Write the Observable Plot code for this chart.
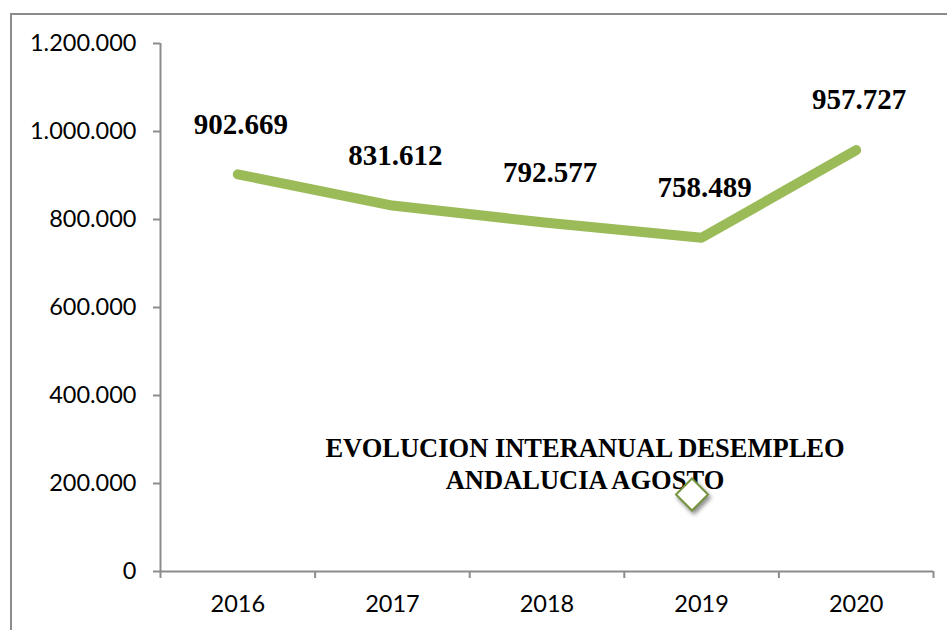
<!DOCTYPE html>
<html>
<head>
<meta charset="utf-8">
<script src="https://cdn.jsdelivr.net/npm/d3@7"></script>
<script src="https://cdn.jsdelivr.net/npm/@observablehq/plot@0.6"></script>
<style>
  html, body { margin: 0; padding: 0; background: #fff; }
  #wrap { position: relative; width: 947px; height: 630px; overflow: hidden; }
  #border { position: absolute; left: 10px; top: 13px; width: 1200px; height: 900px; border-left: 2px solid #8c8c8c; border-top: 2px solid #8c8c8c; }
  #chart { position: absolute; left: 0; top: 0; }
</style>
</head>
<body>
<div id="wrap"><div id="border"></div><div id="chart"></div></div>
<script>
const years = [2016, 2017, 2018, 2019, 2020];
const parados = [902669, 831612, 792577, 758489, 957727];
const yTicks = [0, 200000, 400000, 600000, 800000, 1000000, 1200000];
const titleText = "EVOLUCION INTERANUAL DESEMPLEO\nANDALUCIA AGOSTO";

const data = years.map((y, i) => ({year: y, value: parados[i]}));
const es = d3.formatLocale({decimal: ",", thousands: ".", grouping: [3], currency: ["", "€"]});
const fmt = es.format(",d");
const bounds = [years[0] - 0.5, ...years.map(y => y + 0.5)];

const grey = "#8c8c8c";
const plot = Plot.plot({
  width: 947,
  height: 630,
  marginLeft: 160,
  marginRight: 14,
  marginTop: 43,
  marginBottom: 59,
  style: {background: "transparent", overflow: "visible"},
  x: {domain: [bounds[0], bounds[bounds.length - 1]]},
  y: {domain: [0, 1200000]},
  marks: [
    Plot.ruleY([0], {stroke: grey, strokeWidth: 2}),
    Plot.ruleX([bounds[0]], {y1: 0, y2: 1200000, stroke: grey, strokeWidth: 2}),
    Plot.axisY({ticks: yTicks, tickFormat: d => d === 0 ? "0" : fmt(d), tickSize: 7, tickPadding: 17,
      stroke: grey, strokeWidth: 2, fontSize: 23.5, fontFamily: "Lato", fill: "#000", label: null}),
    Plot.axisX({ticks: bounds, tickFormat: () => "", tickSize: 7, stroke: grey, strokeWidth: 2, label: null}),
    Plot.axisX({ticks: years, tickFormat: d => String(d), tickSize: 0, tickPadding: 24,
      fontSize: 23.5, fontFamily: "Lato", fill: "#000", label: null}),
    Plot.line(data, {x: "year", y: "value", stroke: "#9BBB59", strokeWidth: 10, strokeLinecap: "round", strokeLinejoin: "round"}),
    Plot.text(data, {x: "year", y: "value", text: d => fmt(d.value), dx: 3, dy: -50,
      fontFamily: "Liberation Serif", fontWeight: "bold", fontSize: 29, fill: "#000", letterSpacing: "0.6px"}),
    Plot.text([titleText], {frameAnchor: "middle", dx: 38, dy: 155, text: d => d, lineHeight: 1.2,
      fontFamily: "Liberation Serif", fontWeight: "bold", fontSize: 26.5, fill: "#000"}),
    Plot.dot([titleText], {frameAnchor: "middle", dx: 145, dy: 187, symbol: "diamond2", r: 14.4,
      stroke: "#77933C", strokeWidth: 2, fill: "#fff"})
  ]
});
d3.select(plot).selectAll("g[aria-label=dot] path").style("filter", "drop-shadow(2px 3px 2px rgba(0,0,0,0.45))");
document.getElementById("chart").appendChild(plot);
</script>
</body>
</html>
